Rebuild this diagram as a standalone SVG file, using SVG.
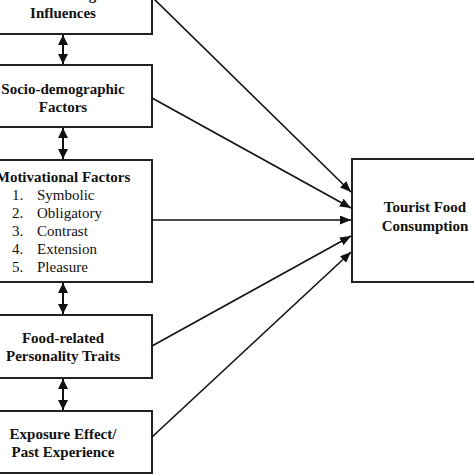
<svg xmlns="http://www.w3.org/2000/svg" width="474" height="474" viewBox="0 0 474 474">
<style>
.box{fill:#fff;stroke:#222;stroke-width:2}
.t{font-family:"Liberation Serif","Times New Roman",serif;font-size:15px;fill:#111}
.b{font-weight:bold;text-anchor:middle}
.c line{stroke:#111;stroke-width:1.6}
.c line.v{stroke-width:2}
</style>
<defs>
<marker id="ah" markerWidth="11" markerHeight="9" refX="11" refY="4.5" orient="auto-start-reverse" markerUnits="userSpaceOnUse">
<path d="M0,0 L11,4.5 L0,9 Z" fill="#111"/>
</marker>
<marker id="dh" markerWidth="10" markerHeight="10" refX="10" refY="5" orient="auto-start-reverse" markerUnits="userSpaceOnUse">
<path d="M0,0 L10,5 L0,10 Z" fill="#111"/>
</marker>
</defs>
<rect width="474" height="474" fill="#fff"/>
<g id="n1">
<rect class="box" x="-26" y="-40" width="178" height="74"/>
<text class="t b" x="63" y="0">Cultural/Religious</text>
<text class="t b" x="63" y="18">Influences</text>
</g>
<g id="n2">
<rect class="box" x="-26" y="65" width="178" height="62"/>
<text class="t b" x="63" y="94">Socio-demographic</text>
<text class="t b" x="63" y="112">Factors</text>
</g>
<g id="n3">
<rect class="box" x="-26" y="160" width="178" height="122"/>
<text class="t b" x="63" y="182">Motivational Factors</text>
<text class="t" x="12" y="200">1.</text><text class="t" x="37" y="200">Symbolic</text>
<text class="t" x="12" y="218">2.</text><text class="t" x="37" y="218">Obligatory</text>
<text class="t" x="12" y="236">3.</text><text class="t" x="37" y="236">Contrast</text>
<text class="t" x="12" y="254">4.</text><text class="t" x="37" y="254">Extension</text>
<text class="t" x="12" y="272">5.</text><text class="t" x="37" y="272">Pleasure</text>
</g>
<g id="n4">
<rect class="box" x="-26" y="315" width="178" height="63"/>
<text class="t b" x="63" y="343">Food-related</text>
<text class="t b" x="63" y="361">Personality Traits</text>
</g>
<g id="n5">
<rect class="box" x="-26" y="411" width="178" height="62"/>
<text class="t b" x="63" y="439">Exposure Effect/</text>
<text class="t b" x="63" y="457">Past Experience</text>
</g>
<g id="n6">
<rect class="box" x="352" y="159" width="146" height="123"/>
<text class="t b" x="425" y="212">Tourist Food</text>
<text class="t b" x="425" y="231">Consumption</text>
</g>
<g class="c" id="connectors">
<line class="v" x1="63" y1="35" x2="63" y2="64" marker-start="url(#dh)" marker-end="url(#dh)"/>
<line class="v" x1="63" y1="128" x2="63" y2="159" marker-start="url(#dh)" marker-end="url(#dh)"/>
<line class="v" x1="63" y1="283" x2="63" y2="314" marker-start="url(#dh)" marker-end="url(#dh)"/>
<line class="v" x1="63" y1="379" x2="63" y2="410" marker-start="url(#dh)" marker-end="url(#dh)"/>
<line x1="152" y1="-3" x2="351" y2="192" marker-end="url(#ah)"/>
<line x1="152" y1="98" x2="351" y2="208" marker-end="url(#ah)"/>
<line x1="152" y1="220" x2="351" y2="220" marker-end="url(#ah)"/>
<line x1="152" y1="346" x2="351" y2="236" marker-end="url(#ah)"/>
<line x1="152" y1="437" x2="351" y2="252" marker-end="url(#ah)"/>
</g>
</svg>
